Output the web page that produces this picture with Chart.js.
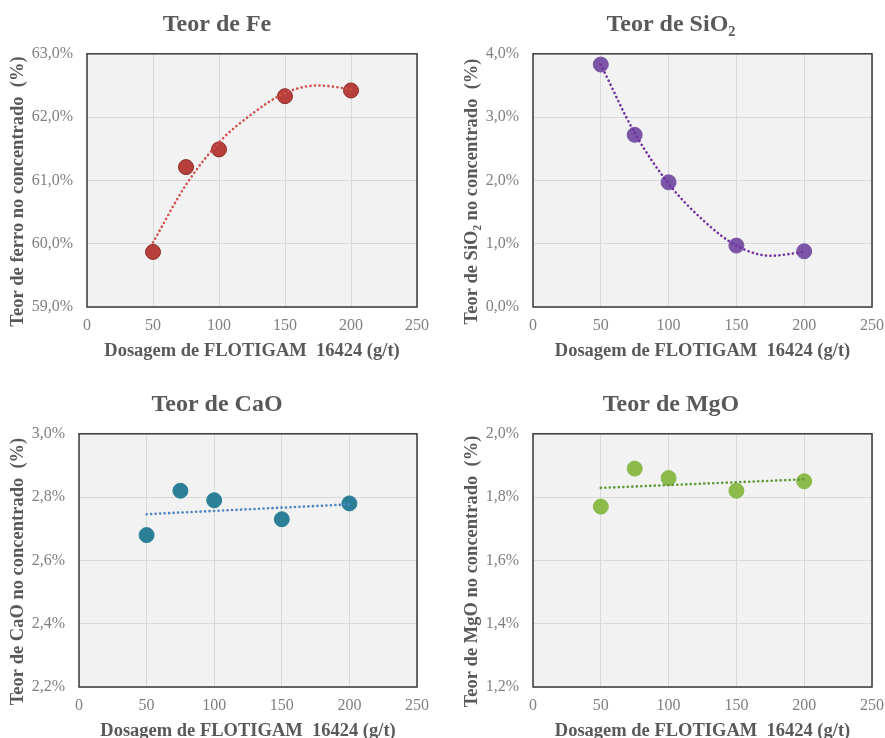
<!DOCTYPE html>
<html>
<head>
<meta charset="utf-8">
<script src="https://cdn.jsdelivr.net/npm/chart.js@4.4.0/dist/chart.umd.min.js"></script>
<style>
  html, body { margin: 0; padding: 0; background: #fff; overflow: hidden; }
  #wrap { position: relative; width: 885px; height: 738px; overflow: hidden; }
  canvas { position: absolute; }
</style>
</head>
<body>
<div id="wrap">
  <canvas id="cFe" width="442" height="369" style="left:0px;top:0px"></canvas>
  <canvas id="cSiO2" width="448" height="369" style="left:445px;top:0px"></canvas>
  <canvas id="cCaO" width="442" height="369" style="left:0px;top:380px"></canvas>
  <canvas id="cMgO" width="448" height="369" style="left:445px;top:380px"></canvas>
</div>
<script>
// dosagem de coletor (g/t)
const dosagem = [50, 75, 100, 150, 200];

// teores no concentrado (%)
const teorFe   = [59.87, 61.21, 61.49, 62.33, 62.42];
const teorSiO2 = [3.83, 2.72, 1.97, 0.97, 0.88];
const teorCaO  = [2.68, 2.82, 2.79, 2.73, 2.78];
const teorMgO  = [1.77, 1.89, 1.86, 1.82, 1.85];

// linhas de tendencia
const trendCurveX = [50, 75, 100, 125, 150, 175, 200];
const trendFe     = [60.02, 60.93, 61.6, 62.05, 62.38, 62.5, 62.44];
const trendSiO2   = [3.83, 2.75, 1.95, 1.38, 0.97, 0.81, 0.87];
const trendLineX  = [50, 200];
const trendCaO    = [2.746, 2.777];
const trendMgO    = [1.829, 1.856];

// eixos
const xTicks = [0, 50, 100, 150, 200, 250];
const yFe   = {min: 59, max: 63, step: 1};
const ySiO2 = {min: 0, max: 4, step: 1};
const yCaO  = {min: 2.2, max: 3.0, step: 0.2};
const yMgO  = {min: 1.2, max: 2.0, step: 0.2};

const xTitle = 'Dosagem de FLOTIGAM  16424 (g/t)';
const SERIF = "'Liberation Serif', 'Times New Roman', serif";
const GRAY = '#595959';

function pts(xs, ys) {
  return xs.map((x, i) => ({x: x, y: ys[i]}));
}

const plotFrame = {
  id: 'plotFrame',
  beforeDraw(chart) {
    const a = chart.chartArea, ctx = chart.ctx;
    ctx.save();
    ctx.fillStyle = '#f2f2f2';
    ctx.fillRect(a.left, a.top, a.right - a.left, a.bottom - a.top);
    ctx.restore();
  },
  beforeDatasetsDraw(chart) {
    const a = chart.chartArea, ctx = chart.ctx;
    ctx.save();
    ctx.strokeStyle = '#3a3a3a';
    ctx.lineWidth = 1.5;
    ctx.strokeRect(a.left, a.top, a.right - a.left, a.bottom - a.top);
    ctx.restore();
  },
  afterLayout(chart, args, opts) {
    if (chart.titleBlock && opts.shift) {
      chart.titleBlock.left += opts.shift;
      chart.titleBlock.right += opts.shift;
    }
  }
};

function makeChart(id, o) {
  new Chart(document.getElementById(id), {
    type: 'scatter',
    data: {
      datasets: [{
        data: pts(dosagem, o.values),
        backgroundColor: o.color,
        borderColor: o.edge,
        borderWidth: 1,
        pointRadius: o.radius,
        pointHoverRadius: o.radius,
        order: 2
      }, {
        data: pts(o.trendX, o.trend),
        showLine: true,
        borderColor: o.trendColor,
        borderWidth: 2.6,
        borderDash: [0.1, 4.4],
        borderCapStyle: 'round',
        cubicInterpolationMode: 'monotone',
        pointRadius: 0,
        order: 1
      }]
    },
    options: {
      responsive: false,
      animation: false,
      layout: {padding: {left: 0, top: 0, bottom: 0, right: o.padRight}},
      plugins: {
        legend: {display: false},
        tooltip: {enabled: false},
        title: {
          display: true,
          text: o.title,
          color: GRAY,
          font: {family: SERIF, size: 24, weight: 'bold'},
          padding: {top: 10, bottom: 15}
        },
        plotFrame: {shift: o.titleShift}
      },
      scales: {
        x: {
          type: 'linear',
          min: 0, max: 250,
          afterBuildTicks: s => { s.ticks = xTicks.map(v => ({value: v})); },
          afterFit: s => { s.height = 62; },
          grid: {color: '#d9d9d9', lineWidth: 1, drawTicks: false},
          border: {display: false},
          ticks: {color: '#7f7f7f', padding: 9, font: {family: SERIF, size: 16}},
          title: {
            display: true, text: xTitle, color: GRAY,
            font: {family: SERIF, size: 18.5, weight: 'bold'},
            padding: {top: 0, bottom: 7}
          }
        },
        y: {
          min: o.y.min, max: o.y.max,
          afterFit: s => { s.width = o.yWidth; },
          grid: {color: '#d9d9d9', lineWidth: 1, drawTicks: false},
          border: {display: false},
          ticks: {
            stepSize: o.y.step,
            color: '#7f7f7f', padding: 14,
            font: {family: SERIF, size: 16},
            callback: v => v.toFixed(1).replace('.', ',') + '%'
          },
          title: {
            display: true, text: o.yTitle + '\u2003\u2009', color: GRAY,
            font: {family: SERIF, size: 18.5, weight: 'bold'},
            padding: {top: o.yTitlePad, bottom: 0}
          }
        }
      }
    },
    plugins: [plotFrame]
  });
}

makeChart('cFe', {
  title: 'Teor de Fe', yTitle: 'Teor de ferro no concentrado  (%)',
  values: teorFe, trendX: trendCurveX, trend: trendFe, y: yFe,
  color: '#b8403c', edge: '#8e2c29', trendColor: '#cf514b', radius: 7.5,
  yWidth: 87, padRight: 25, yTitlePad: 7, titleShift: 8.5
});
makeChart('cSiO2', {
  title: 'Teor de SiO\u2082', yTitle: 'Teor de SiO\u2082 no concentrado  (%)',
  values: teorSiO2, trendX: trendCurveX, trend: trendSiO2, y: ySiO2,
  color: '#7c56a6', edge: '#7c56a6', trendColor: '#7030a0', radius: 7.5,
  yWidth: 88, padRight: 0, yTitlePad: 16, titleShift: 2
});
makeChart('cCaO', {
  title: 'Teor de CaO', yTitle: 'Teor de CaO no concentrado  (%)',
  values: teorCaO, trendX: trendLineX, trend: trendCaO, y: yCaO,
  color: '#2b8098', edge: '#2b8098', trendColor: '#4f86c6', radius: 7.5,
  yWidth: 79, padRight: 25, yTitlePad: 7, titleShift: 8.5
});
makeChart('cMgO', {
  title: 'Teor de MgO', yTitle: 'Teor de MgO no concentrado  (%)',
  values: teorMgO, trendX: trendLineX, trend: trendMgO, y: yMgO,
  color: '#8cbb4b', edge: '#8cbb4b', trendColor: '#5f9a38', radius: 7.5,
  yWidth: 88, padRight: 0, yTitlePad: 16, titleShift: 2
});
</script>
</body>
</html>
